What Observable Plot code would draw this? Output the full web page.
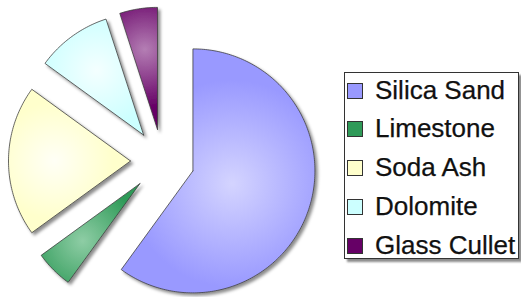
<!DOCTYPE html>
<html>
<head>
<meta charset="utf-8">
<script src="https://cdn.jsdelivr.net/npm/d3@7"></script>
<script src="https://cdn.jsdelivr.net/npm/@observablehq/plot@0.6"></script>
<style>
  html, body { margin: 0; padding: 0; background: #fff; }
  #wrap { position: relative; width: 521px; height: 297px; overflow: hidden; }
  #chart { position: absolute; left: 0; top: 0; }
  #legend {
    position: absolute; left: 344px; top: 72px; width: 175px; height: 187px;
    box-sizing: border-box; border: 1px solid #333; background: #fff;
    box-shadow: 3px 3px 2px rgba(0,0,0,0.45);
    font-family: "Liberation Sans", Arial, sans-serif; font-size: 26px; color: #111;
  }
  .row { position: absolute; left: 0; height: 38.75px; line-height: 38.75px; white-space: nowrap; width: 200px; }
  .sw { position: absolute; left: 2px; top: 12px; width: 14px; height: 14px; border: 1px solid #333; }
  .lab { position: absolute; left: 30px; top: 0; -webkit-text-stroke: 0.25px #111; }
</style>
</head>
<body>
<div id="wrap">
  <div id="chart"></div>
  <div id="legend"></div>
</div>
<script>
// Data
const categories = ["Silica Sand", "Limestone", "Soda Ash", "Dolomite", "Glass Cullet"];
const shares = [60, 5, 20, 10, 5];
const colors = ["#9999FF", "#2F9A58", "#FFFFCC", "#CCFFFF", "#660066"];
const lightColors = ["#D4D4FF", "#8ECDA5", "#FFFFF6", "#F4FFFF", "#B47EB4"];

// Layout
const W = 340, H = 297;
const cx = 162, cy = 160.5, R = 122, explode = 32;

const arcs = d3.pie().sort(null).value(d => d)(shares);
const slices = arcs.map((a, i) => {
  const mid = (a.startAngle + a.endAngle) / 2;
  const ax = cx + explode * Math.sin(mid);
  const ay = cy - explode * Math.cos(mid);
  const n = Math.max(4, Math.ceil((a.endAngle - a.startAngle) / (Math.PI / 180)));
  const pts = [{x: ax, y: ay}];
  for (let k = 0; k <= n; k++) {
    const t = a.startAngle + (a.endAngle - a.startAngle) * k / n;
    pts.push({x: ax + R * Math.sin(t), y: ay - R * Math.cos(t)});
  }
  pts.push({x: ax, y: ay});
  const th = a.endAngle - a.startAngle;
  const cd = 2 * R * Math.sin(th / 2) / (3 * th / 2);
  const big = th > Math.PI;
  return {i, name: categories[i], pts, big, gx: ax + cd * Math.sin(mid), gy: ay - cd * Math.cos(mid)};
});

function defsMark() {
  const ns = "http://www.w3.org/2000/svg";
  const defs = document.createElementNS(ns, "defs");
  let html = `<filter id="shadow" x="-20%" y="-20%" width="140%" height="140%">
      <feDropShadow dx="2.5" dy="2.5" stdDeviation="1.6" flood-color="#000" flood-opacity="0.45"/>
    </filter>`;
  slices.forEach(s => {
    html += `<radialGradient id="g${s.i}" gradientUnits="userSpaceOnUse" cx="${s.gx}" cy="${s.gy}" r="${R * (s.big ? 0.85 : 0.6)}">
        <stop offset="0" stop-color="${lightColors[s.i]}"/>
        <stop offset="${s.big ? 1 : 0.8}" stop-color="${colors[s.i]}"/>
      </radialGradient>`;
  });
  defs.innerHTML = html;
  return defs;
}

const plot = Plot.plot({
  width: W, height: H, margin: 0,
  x: {domain: [0, W], range: [0, W], axis: null},
  y: {domain: [0, H], range: [0, H], axis: null},
  marks: [
    defsMark,
    ...slices.map(s => Plot.line(s.pts, {
      x: "x", y: "y", fill: `url(#g${s.i})`, stroke: "#3a3a3a", strokeWidth: 0.9, strokeOpacity: 0.85, strokeLinejoin: "round"
    }))
  ]
});
plot.querySelectorAll('g[aria-label="line"]').forEach(g => g.setAttribute("filter", "url(#shadow)"));
document.getElementById("chart").appendChild(plot);

// Legend
const legend = document.getElementById("legend");
categories.forEach((c, i) => {
  const row = document.createElement("div");
  row.className = "row";
  row.style.top = (-2.4 + i * 38.75) + "px";
  row.innerHTML = `<span class="sw" style="background:${colors[i]}"></span><span class="lab">${c}</span>`;
  legend.appendChild(row);
});
</script>
</body>
</html>
